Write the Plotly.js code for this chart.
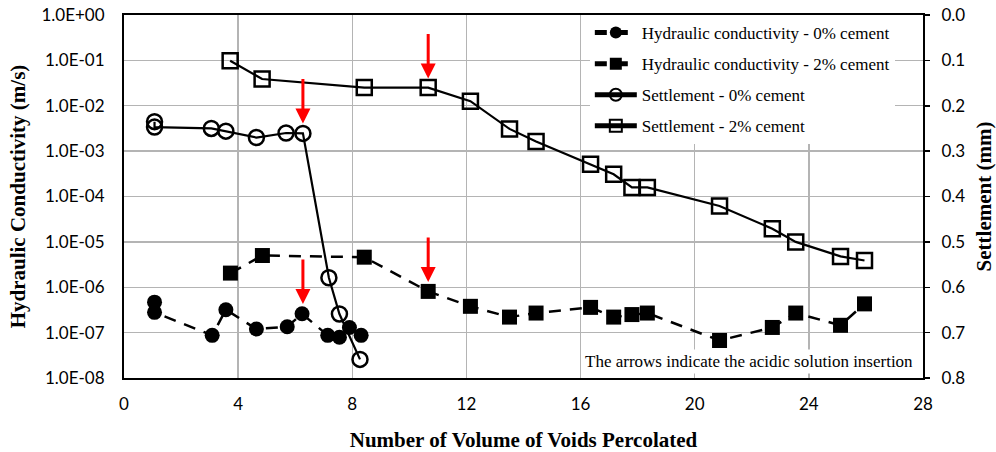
<!DOCTYPE html>
<html>
<head>
<meta charset="utf-8">
<script src="https://cdn.plot.ly/plotly-3.0.1.min.js"></script>
<style>html,body{margin:0;padding:0;background:#fff;}#chart{width:996px;height:452px;}</style>
</head>
<body>
<div id="chart"></div>
<script>
// ---- data ----
const xHyd0 = [1.07, 1.07, 3.09, 3.57, 4.64, 5.72, 6.24, 7.14, 7.55, 7.90, 8.31];
const kHyd0 = [4.7e-7, 2.8e-7, 8.7e-8, 3.2e-7, 1.2e-7, 1.35e-7, 2.6e-7, 8.7e-8, 7.9e-8, 1.3e-7, 8.7e-8];

const xHyd2 = [3.73, 4.85, 8.42, 10.66, 12.14, 13.51, 14.44, 16.35, 17.16, 17.80, 18.34, 20.87, 22.72, 23.54, 25.11, 25.95];
const kHyd2 = [2.05e-6, 5.0e-6, 4.6e-6, 8.1e-7, 3.8e-7, 2.2e-7, 2.7e-7, 3.6e-7, 2.2e-7, 2.5e-7, 2.7e-7, 6.7e-8, 1.3e-7, 2.7e-7, 1.45e-7, 4.3e-7];

const xSet0 = [1.07, 1.07, 3.06, 3.57, 4.64, 5.68, 6.27, 7.18, 7.55, 8.27];
const sSet0 = [0.235, 0.247, 0.250, 0.256, 0.270, 0.260, 0.261, 0.579, 0.659, 0.759];

const xSet2 = [3.72, 4.84, 8.42, 10.66, 12.14, 13.51, 14.44, 16.35, 17.16, 17.80, 18.34, 20.87, 22.72, 23.54, 25.11, 25.95];
const sSet2 = [0.101, 0.141, 0.160, 0.160, 0.190, 0.251, 0.279, 0.329, 0.351, 0.380, 0.380, 0.421, 0.471, 0.500, 0.532, 0.541];

// acid insertion arrows (tip positions)
const arrowX    = [6.27, 6.27, 10.66, 10.66];
const arrowAxis = ['y2', 'y', 'y2', 'y'];
const arrowY    = [0.239, 4.3e-7, 0.140, 1.3e-6];

const yTickVals = [1e0, 1e-1, 1e-2, 1e-3, 1e-4, 1e-5, 1e-6, 1e-7, 1e-8];
const yTickText = ['1.0E+00', '1.0E-01', '1.0E-02', '1.0E-03', '1.0E-04', '1.0E-05', '1.0E-06', '1.0E-07', '1.0E-08'];

const legendNames = [
  'Hydraulic conductivity - 0% cement',
  'Hydraulic conductivity - 2% cement',
  'Settlement - 0% cement',
  'Settlement - 2% cement'
];
const noteText = 'The arrows indicate the acidic solution insertion';

// ---- chart ----
const tickFont = {family: 'Lato, "Liberation Sans", sans-serif', size: 17, color: '#000'};
const titleFont = {family: '"Liberation Serif", "Times New Roman", serif', size: 21, color: '#000', weight: 'bold'};
const serifFont = {family: '"Liberation Serif", "Times New Roman", serif', size: 17, color: '#000'};

const traces = [
  {
    x: xHyd0, y: kHyd0, yaxis: 'y', name: legendNames[0], legendgroup: 'a',
    mode: 'lines+markers', type: 'scatter',
    line: {color: '#000', width: 2.5, dash: '12px,9px'},
    marker: {symbol: 'circle', size: 15, color: '#000'}
  },
  {
    x: xHyd2, y: kHyd2, yaxis: 'y', name: legendNames[1], legendgroup: 'b',
    mode: 'lines+markers', type: 'scatter',
    line: {color: '#000', width: 2.5, dash: '12px,9px'},
    marker: {symbol: 'square', size: 15, color: '#000'}
  },
  {
    x: xSet0, y: sSet0, yaxis: 'y2', name: legendNames[2], legendgroup: 'c',
    mode: 'lines+markers', type: 'scatter',
    line: {color: '#000', width: 2.2},
    marker: {symbol: 'circle-open', size: 15, color: '#000', line: {width: 2.5, color: '#000'}}
  },
  {
    x: xSet2, y: sSet2, yaxis: 'y2', name: legendNames[3], legendgroup: 'd',
    mode: 'lines+markers', type: 'scatter',
    line: {color: '#000', width: 2.2},
    marker: {symbol: 'square-open', size: 15, color: '#000', line: {width: 2.5, color: '#000'}}
  }
];

const annotations = arrowX.map((ax, i) => ({
  x: ax,
  y: arrowAxis[i] === 'y' ? Math.log10(arrowY[i]) : arrowY[i],
  xref: 'x', yref: arrowAxis[i],
  text: '', showarrow: true,
  ax: 0, ay: -46,
  arrowhead: 2, arrowsize: 1, arrowwidth: 3, arrowcolor: '#FF0000'
}));
annotations.push({
  xref: 'paper', yref: 'paper', x: 0.991, y: 0.012,
  xanchor: 'right', yanchor: 'bottom',
  text: noteText, showarrow: false,
  bgcolor: '#fff', font: serifFont, borderpad: 2
});

const layout = {
  width: 996, height: 452,
  margin: {l: 124, r: 73, t: 15, b: 74},
  paper_bgcolor: '#fff', plot_bgcolor: '#fff',
  showlegend: true,
  xaxis: {
    range: [0, 28], dtick: 4, tick0: 0,
    showgrid: true, gridcolor: '#b4b4b4', gridwidth: 1.3,
    zeroline: false,
    showline: true, linecolor: '#000', linewidth: 2, mirror: true,
    ticks: '', tickfont: tickFont, ticklabelstandoff: 10,
    title: {text: 'Number of Volume of Voids Percolated', font: titleFont, standoff: 20}
  },
  yaxis: {
    type: 'log', range: [-8, 0],
    tickvals: yTickVals, ticktext: yTickText,
    showgrid: true, gridcolor: '#b4b4b4', gridwidth: 1.3,
    zeroline: false,
    showline: true, linecolor: '#000', linewidth: 2,
    ticks: '', tickfont: tickFont, ticklabelstandoff: 14,
    title: {text: 'Hydraulic Conductivity (m/s)', font: titleFont, standoff: 10}
  },
  yaxis2: {
    overlaying: 'y', side: 'right',
    range: [0.8, 0], dtick: 0.1, tick0: 0, tickformat: '.1f',
    showgrid: false, zeroline: false,
    showline: true, linecolor: '#000', linewidth: 2,
    ticks: 'outside', ticklen: 5, tickwidth: 1.5, tickcolor: '#000',
    tickfont: tickFont, ticklabelstandoff: 8,
    title: {text: 'Settlement (mm)', font: titleFont, standoff: 12}
  },
  legend: {
    x: 0.583, y: 1, xanchor: 'left', yanchor: 'top',
    bgcolor: '#fff', borderwidth: 0,
    font: serifFont, itemwidth: 42, itemsizing: 'constant',
    tracegroupgap: 6, traceorder: 'grouped'
  },
  annotations: annotations
};

Plotly.newPlot('chart', traces, layout, {displayModeBar: false, staticPlot: true});
</script>
</body>
</html>
